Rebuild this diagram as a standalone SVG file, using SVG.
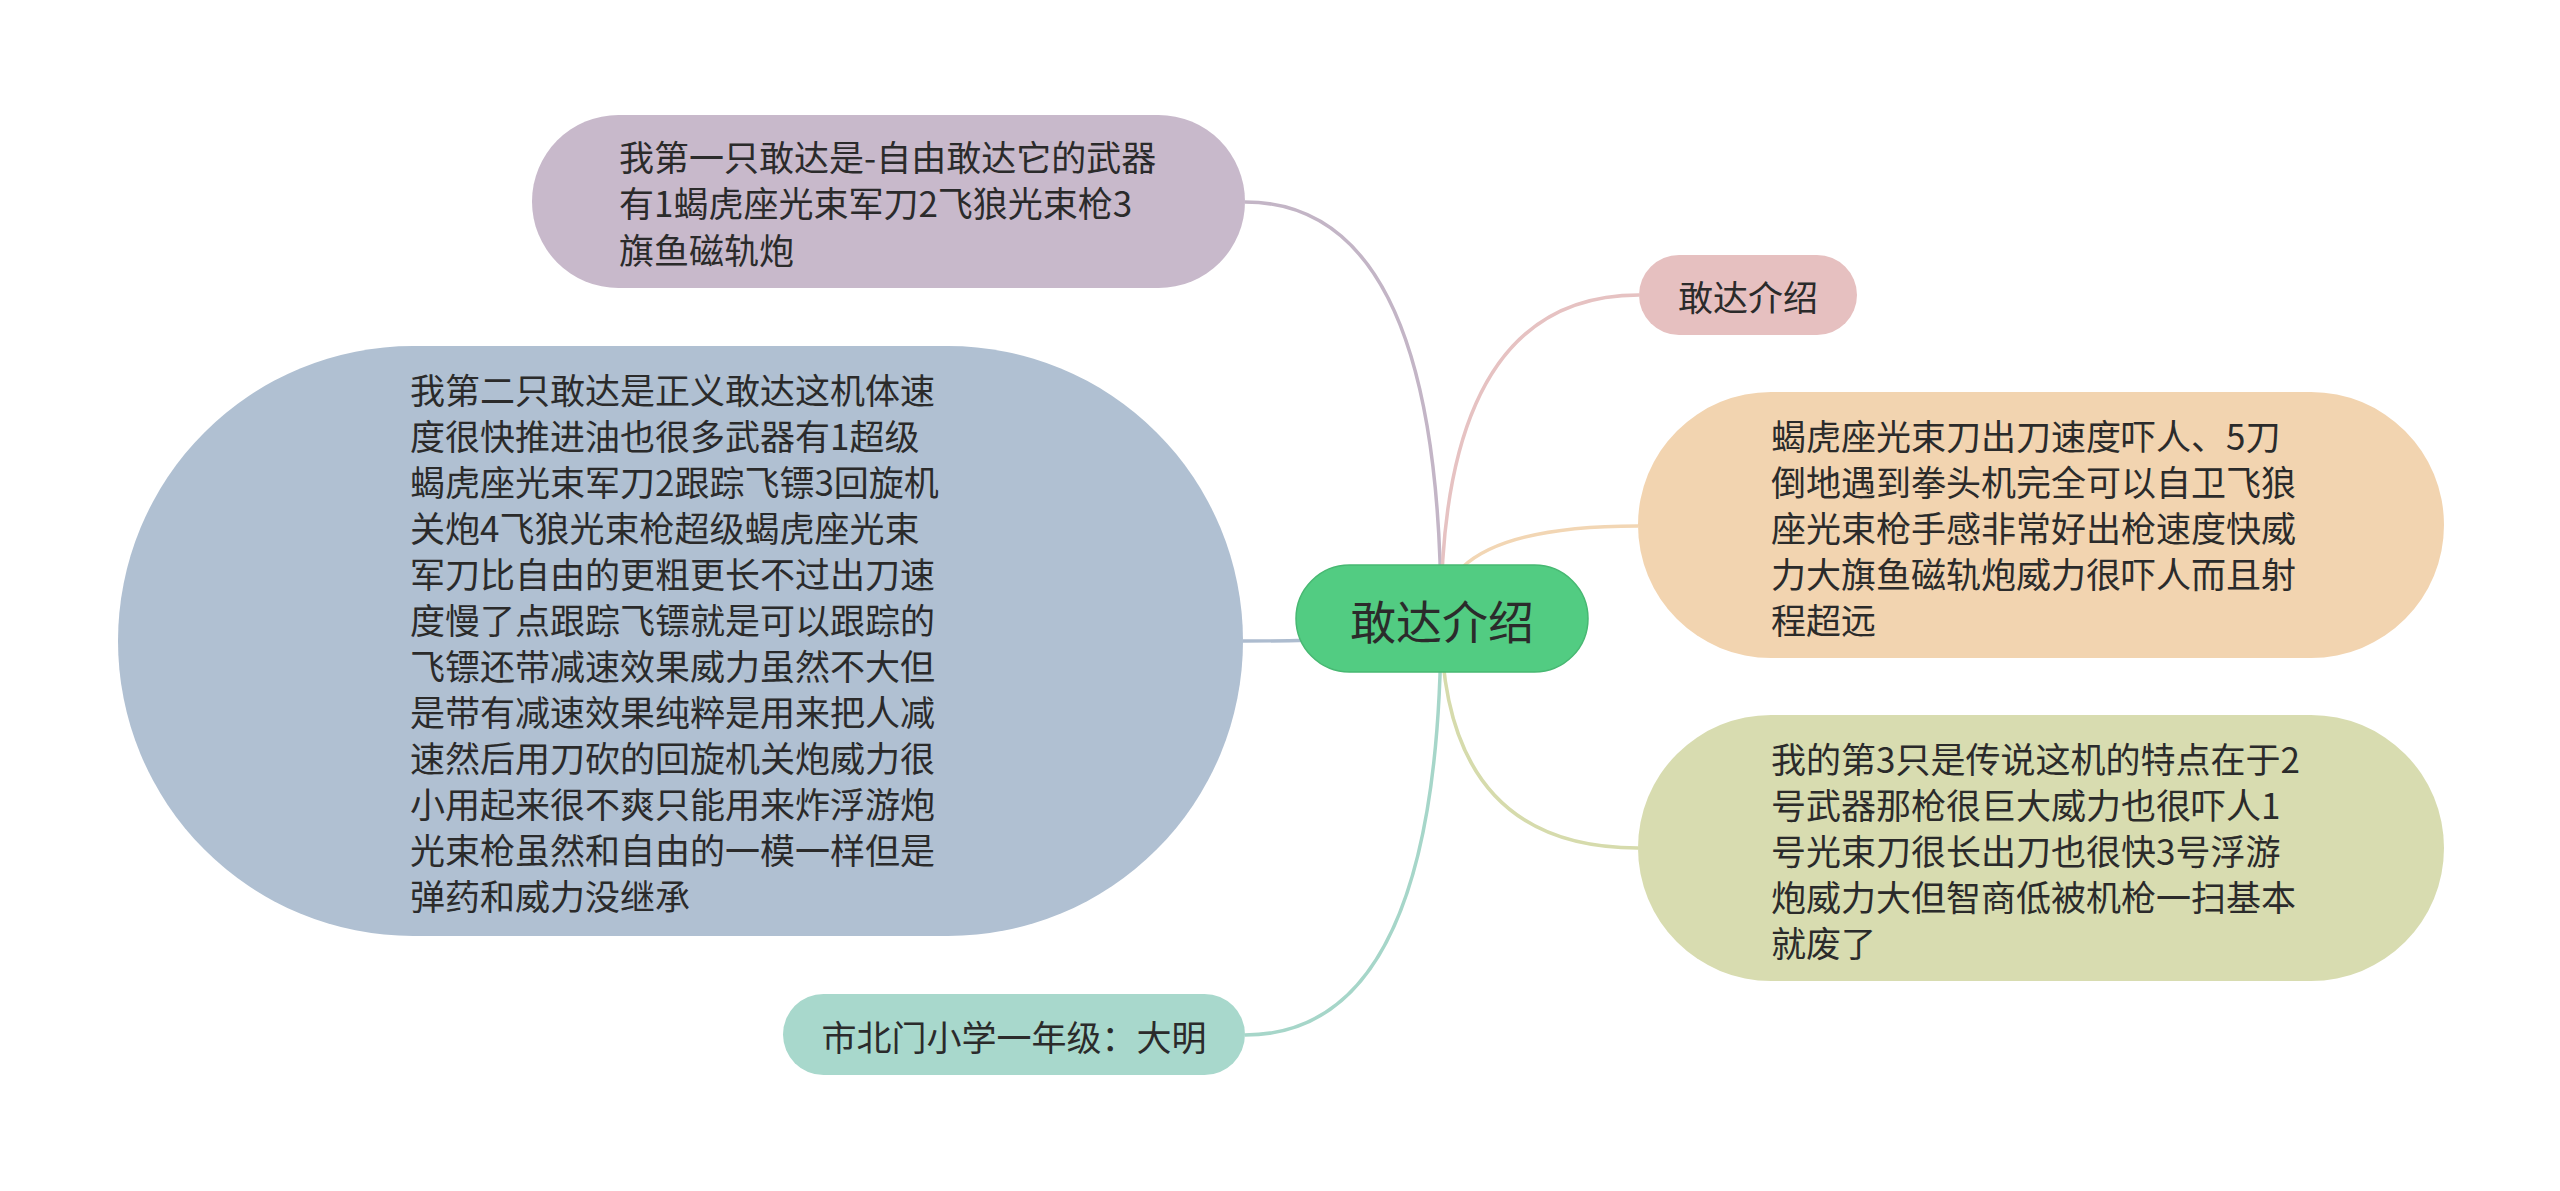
<svg xmlns="http://www.w3.org/2000/svg" width="2560" height="1191" viewBox="0 0 2560 1191">
<style>
.t{font-family:"Noto Sans CJK SC","Noto Sans",sans-serif;font-size:35px;fill:#2b2b2b;dominant-baseline:central}
.c{stroke-width:3.5;fill:none}
</style>
<rect width="2560" height="1191" fill="#ffffff"/>
<g id="connectors">
<path class="c" stroke="#c3b5c6" d="M1441,618 Q1441,202 1245,202"/>
<path class="c" stroke="#adbccf" d="M1441,618 Q1441,641 1243,641"/>
<path class="c" stroke="#a6d6c9" d="M1441,618 Q1441,1035 1245,1035"/>
<path class="c" stroke="#e6c2c2" d="M1441,618 Q1441,295 1639,295"/>
<path class="c" stroke="#f2d6b4" d="M1441,618 Q1441,526 1638,526"/>
<path class="c" stroke="#d6dbac" d="M1441,618 Q1441,848 1638,848"/>
</g>
<g id="root">
<rect x="1296" y="565" width="292" height="107" rx="53.5" fill="#52cc82" stroke="#47b872" stroke-width="1.5"/>
<text class="t" x="1442" y="618.5" text-anchor="middle" style="font-size:46px" fill="#1e2a22">敢达介绍</text>
</g>
<g id="n1">
<rect x="532" y="115" width="713" height="173" rx="86.5" fill="#c8b9cb"/>
<text class="t" x="619" y="155">我第一只敢达是-自由敢达它的武器</text>
<text class="t" x="619" y="201.5">有1蝎虎座光束军刀2飞狼光束枪3</text>
<text class="t" x="619" y="248">旗鱼磁轨炮</text>
</g>
<g id="n2">
<rect x="118" y="346" width="1125" height="590" rx="295" fill="#b0c0d2"/>
<text class="t" x="410" y="388">我第二只敢达是正义敢达这机体速</text>
<text class="t" x="410" y="434">度很快推进油也很多武器有1超级</text>
<text class="t" x="410" y="480">蝎虎座光束军刀2跟踪飞镖3回旋机</text>
<text class="t" x="410" y="526">关炮4飞狼光束枪超级蝎虎座光束</text>
<text class="t" x="410" y="572">军刀比自由的更粗更长不过出刀速</text>
<text class="t" x="410" y="618">度慢了点跟踪飞镖就是可以跟踪的</text>
<text class="t" x="410" y="664">飞镖还带减速效果威力虽然不大但</text>
<text class="t" x="410" y="710">是带有减速效果纯粹是用来把人减</text>
<text class="t" x="410" y="756">速然后用刀砍的回旋机关炮威力很</text>
<text class="t" x="410" y="802">小用起来很不爽只能用来炸浮游炮</text>
<text class="t" x="410" y="848">光束枪虽然和自由的一模一样但是</text>
<text class="t" x="410" y="894">弹药和威力没继承</text>
</g>
<g id="n3">
<rect x="783" y="994" width="462" height="81" rx="40.5" fill="#a8d8cc"/>
<text class="t" x="1014" y="1035" text-anchor="middle">市北门小学一年级：大明</text>
</g>
<g id="n4">
<rect x="1639" y="255" width="218" height="80" rx="40" fill="#e6c0c0"/>
<text class="t" x="1748" y="295" text-anchor="middle">敢达介绍</text>
</g>
<g id="n5">
<rect x="1638" y="392" width="806" height="266" rx="133" fill="#f2d4b0"/>
<text class="t" x="1771" y="434">蝎虎座光束刀出刀速度吓人、5刀</text>
<text class="t" x="1771" y="480">倒地遇到拳头机完全可以自卫飞狼</text>
<text class="t" x="1771" y="526">座光束枪手感非常好出枪速度快威</text>
<text class="t" x="1771" y="572">力大旗鱼磁轨炮威力很吓人而且射</text>
<text class="t" x="1771" y="618">程超远</text>
</g>
<g id="n6">
<rect x="1638" y="715" width="806" height="266" rx="133" fill="#d8dcb0"/>
<text class="t" x="1771" y="757">我的第3只是传说这机的特点在于2</text>
<text class="t" x="1771" y="803">号武器那枪很巨大威力也很吓人1</text>
<text class="t" x="1771" y="849">号光束刀很长出刀也很快3号浮游</text>
<text class="t" x="1771" y="895">炮威力大但智商低被机枪一扫基本</text>
<text class="t" x="1771" y="941">就废了</text>
</g>
</svg>
